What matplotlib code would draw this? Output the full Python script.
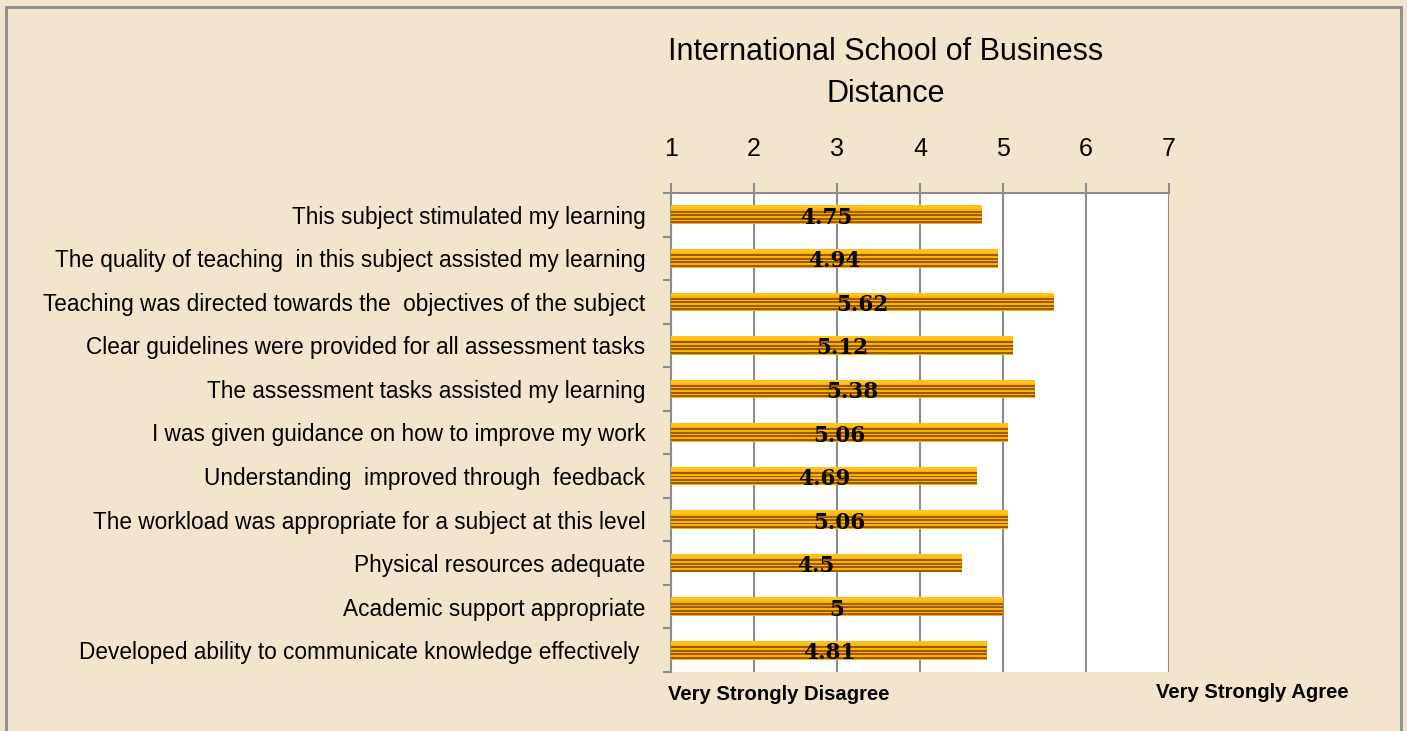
import matplotlib.pyplot as plt
from matplotlib.patches import Rectangle

categories = [
    "This subject stimulated my learning ",
    "The quality of teaching  in this subject assisted my learning ",
    "Teaching was directed towards the  objectives of the subject ",
    "Clear guidelines were provided for all assessment tasks ",
    "The assessment tasks assisted my learning ",
    "I was given guidance on how to improve my work ",
    "Understanding  improved through  feedback ",
    "The workload was appropriate for a subject at this level ",
    "Physical resources adequate ",
    "Academic support appropriate ",
    "Developed ability to communicate knowledge effectively  ",
]
scores = [4.75, 4.94, 5.62, 5.12, 5.38, 5.06, 4.69, 5.06, 4.5, 5, 4.81]
score_labels = ["4.75", "4.94", "5.62", "5.12", "5.38", "5.06", "4.69", "5.06", "4.5", "5", "4.81"]
xticks = [1, 2, 3, 4, 5, 6, 7]

sans = ["Liberation Sans", "DejaVu Sans"]

fig = plt.figure(figsize=(14.07, 7.31), dpi=100)
fig.patch.set_facecolor('#F2E5CB')
fig.patches.append(Rectangle((6 / 1407, -0.05), 1395 / 1407, 1.05 - 7 / 731,
                             transform=fig.transFigure, fill=False,
                             edgecolor='#8c8c8c', linewidth=2))

ax = fig.add_axes([671 / 1407, 1 - 672 / 731, 498 / 1407, 479 / 731])
ax.set_facecolor('white')

y = list(range(len(categories)))
widths = [s - 1 for s in scores]
# base bar, then thin brown stripes to mimic the striped fill
ax.barh(y, widths, left=1, height=0.43, color='#FFB000', linewidth=0, zorder=3)
ax.barh([yi - 0.17 for yi in y], widths, left=1, height=0.09, color='#FFC21A',
        linewidth=0, zorder=3)
for off in [-0.07, 0.01, 0.09, 0.17]:
    ax.barh([yi + off for yi in y], widths, left=1, height=0.045, color='#9A5C00',
            linewidth=0, zorder=3)

for yi, s, lab in zip(y, scores, score_labels):
    ax.text((1 + s) / 2, yi + 0.07, lab, ha='center', va='center',
            fontsize=15.5, fontweight='bold', family=['DejaVu Serif'], zorder=4)

ax.set_xlim(1, 7)
ax.set_ylim(len(categories) - 0.5, -0.5)
ax.set_xticks(xticks)
ax.set_xticklabels([str(t) for t in xticks], fontsize=18, family=sans)
ax.xaxis.tick_top()
ax.tick_params(axis='x', which='major', length=7, width=1.5, color='#8c8c8c', pad=16)
ax.grid(axis='x', color='#8c8c8c', linewidth=1.5, zorder=0)

ax.set_yticks([i + 0.5 for i in range(-1, len(categories))])
ax.set_yticklabels([])
ax.tick_params(axis='y', which='major', length=6, width=1.5, color='#8c8c8c')
ax.set_yticks(y, minor=True)
ax.set_yticklabels(categories, minor=True, fontsize=16.3, family=sans)
ax.tick_params(axis='y', which='minor', length=0, pad=14)

for side in ['right', 'bottom']:
    ax.spines[side].set_visible(False)
for side in ['top', 'left']:
    ax.spines[side].set_color('#8c8c8c')
    ax.spines[side].set_linewidth(1.5)

fig.text(886 / 1407, 1 - 73 / 731, "International School of Business\nDistance",
         ha='center', va='center', fontsize=22, family=sans, linespacing=1.55)

fig.text(668 / 1407, 1 - 695 / 731, "Very Strongly Disagree", ha='left', va='center',
         fontsize=14.6, fontweight='bold', family=sans)
fig.text(1349 / 1407, 1 - 692 / 731, "Very Strongly Agree", ha='right', va='center',
         fontsize=14.6, fontweight='bold', family=sans)

fig.savefig('out.png', dpi=100, facecolor=fig.get_facecolor())
